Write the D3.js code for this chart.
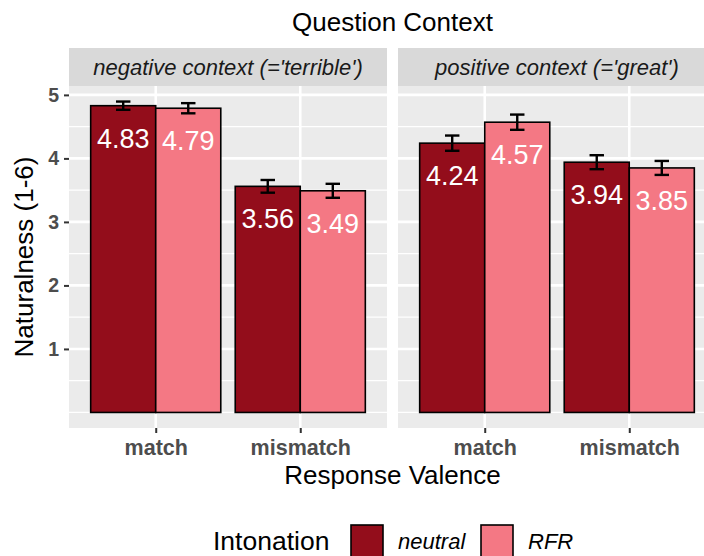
<!DOCTYPE html>
<html>
<head>
<meta charset="utf-8">
<script src="https://cdn.jsdelivr.net/npm/d3@7"></script>
<style>
  body { margin: 0; background: #fff; }
  svg { display: block; font-family: "Liberation Sans", Arial, sans-serif; }
</style>
</head>
<body>
<svg id="chart"></svg>
<script>
// data
let panels = ["negative context (='terrible')", "positive context (='great')"]
let valences = ["match", "mismatch"]
let intonations = ["neutral", "RFR"]
// means per panel: [match, mismatch] for each intonation
let neutralMeans = [[4.83, 3.56], [4.24, 3.94]]
let rfrMeans = [[4.79, 3.49], [4.57, 3.85]]
// half width of the error bars
let neutralErr = [[0.065, 0.10], [0.12, 0.11]]
let rfrErr = [[0.08, 0.11], [0.12, 0.11]]
let yTicks = [1, 2, 3, 4, 5]
let yMinor = [0, 0.5, 1.5, 2.5, 3.5, 4.5]

let colors = {neutral: "#930d1b", RFR: "#f47884"}

let svg = d3.select("#chart").attr("width", 704).attr("height", 556)

// plot geometry (the reference is cropped on the right, panel runs past 704)
let panelW = 318, panelTop = 86, panelBottom = 428
let panelLefts = [69, 398]

let y = d3.scaleLinear().domain([-0.245, 5.14]).range([panelBottom, panelTop])

// title
svg.append("text").attr("x", 392.5).attr("y", 31).attr("text-anchor", "middle")
    .style("font-size", "26px").text("Question Context")

panels.forEach(function (name, p) {
    let x0 = panelLefts[p]
    let x = d3.scaleLinear().domain([0.4, 2.6]).range([x0, x0 + panelW])
    let g = svg.append("g")

    // strip
    g.append("rect").attr("x", x0).attr("y", 48).attr("width", panelW).attr("height", 38)
        .attr("fill", "#d9d9d9")
    g.append("text").attr("x", x0 + panelW / 2).attr("y", 75).attr("text-anchor", "middle")
        .style("font-size", "22px").style("font-style", "italic").attr("fill", "#1a1a1a")
        .text(name)

    // panel background + grid
    g.append("rect").attr("x", x0).attr("y", panelTop).attr("width", panelW)
        .attr("height", panelBottom - panelTop).attr("fill", "#ebebeb")
    g.selectAll(".minor").data(yMinor).join("line")
        .attr("x1", x0).attr("x2", x0 + panelW)
        .attr("y1", d => y(d)).attr("y2", d => y(d))
        .attr("stroke", "#fff").attr("stroke-width", 1.3)
    g.selectAll(".major").data(yTicks).join("line")
        .attr("x1", x0).attr("x2", x0 + panelW)
        .attr("y1", d => y(d)).attr("y2", d => y(d))
        .attr("stroke", "#fff").attr("stroke-width", 2.6)
    g.selectAll(".vgrid").data(valences).join("line")
        .attr("x1", (d, i) => x(i + 1)).attr("x2", (d, i) => x(i + 1))
        .attr("y1", panelTop).attr("y2", panelBottom)
        .attr("stroke", "#fff").attr("stroke-width", 2.6)

    // bars, error bars and value labels
    valences.forEach(function (v, i) {
        let groups = [
            {key: "neutral", mean: neutralMeans[p][i], err: neutralErr[p][i], from: i + 1 - 0.45},
            {key: "RFR", mean: rfrMeans[p][i], err: rfrErr[p][i], from: i + 1}
        ]
        groups.forEach(function (d) {
            let xl = x(d.from), xr = x(d.from + 0.45), xc = (xl + xr) / 2
            g.append("rect").attr("x", xl).attr("y", y(d.mean))
                .attr("width", xr - xl).attr("height", y(0) - y(d.mean))
                .attr("fill", colors[d.key]).attr("stroke", "#000").attr("stroke-width", 1.6)
            let cap = (x(0.1) - x(0)) / 2
            let eb = g.append("g").attr("stroke", "#000").attr("stroke-width", 2.4)
            eb.append("line").attr("x1", xc).attr("x2", xc)
                .attr("y1", y(d.mean + d.err)).attr("y2", y(d.mean - d.err))
            eb.append("line").attr("x1", xc - cap).attr("x2", xc + cap)
                .attr("y1", y(d.mean + d.err)).attr("y2", y(d.mean + d.err))
            eb.append("line").attr("x1", xc - cap).attr("x2", xc + cap)
                .attr("y1", y(d.mean - d.err)).attr("y2", y(d.mean - d.err))
            g.append("text").attr("x", xc).attr("y", y(d.mean) + 42)
                .attr("text-anchor", "middle").attr("fill", "#fff")
                .style("font-size", "27px").text(d3.format(".2f")(d.mean))
        })
    })

    // x axis
    let xAxis = d3.axisBottom(x).tickValues([1, 2]).tickFormat((d) => valences[d - 1])
        .tickSize(5).tickPadding(6)
    let ax = g.append("g").attr("transform", "translate(0," + panelBottom + ")").call(xAxis)
    ax.select(".domain").remove()
    ax.selectAll(".tick line").attr("stroke", "#333").attr("stroke-width", 2)
    ax.selectAll(".tick text").attr("fill", "#4d4d4d").attr("dy", null).attr("y", 27)
        .style("font-size", "21.5px").style("font-weight", "bold").style("font-family", "Liberation Sans, Arial")
})

// y axis
let yAxis = d3.axisLeft(y).tickValues(yTicks).tickFormat(d3.format("d")).tickSize(5).tickPadding(5)
let ay = svg.append("g").attr("transform", "translate(" + panelLefts[0] + ",0)").call(yAxis)
ay.select(".domain").remove()
ay.selectAll(".tick line").attr("stroke", "#333").attr("stroke-width", 2)
ay.selectAll(".tick text").attr("fill", "#4d4d4d")
    .style("font-size", "19.5px").style("font-weight", "bold").style("font-family", "Liberation Sans, Arial")

// axis titles
svg.append("text").attr("transform", "translate(33," + (panelTop + panelBottom) / 2 + ") rotate(-90)")
    .attr("text-anchor", "middle").style("font-size", "26px").text("Naturalness (1-6)")
svg.append("text").attr("x", 392.5).attr("y", 484).attr("text-anchor", "middle")
    .style("font-size", "26px").text("Response Valence")

// legend
let legend = svg.append("g")
legend.append("text").attr("x", 213).attr("y", 550).style("font-size", "26.5px").text("Intonation")
let keyX = [351, 481]
intonations.forEach(function (k, i) {
    legend.append("rect").attr("x", keyX[i]).attr("y", 525).attr("width", 32).attr("height", 32)
        .attr("fill", colors[k]).attr("stroke", "#000").attr("stroke-width", 1.6)
    legend.append("text").attr("x", keyX[i] + 47).attr("y", 549)
        .style("font-size", "22px").style("font-style", "italic").text(k)
})
</script>
</body>
</html>
